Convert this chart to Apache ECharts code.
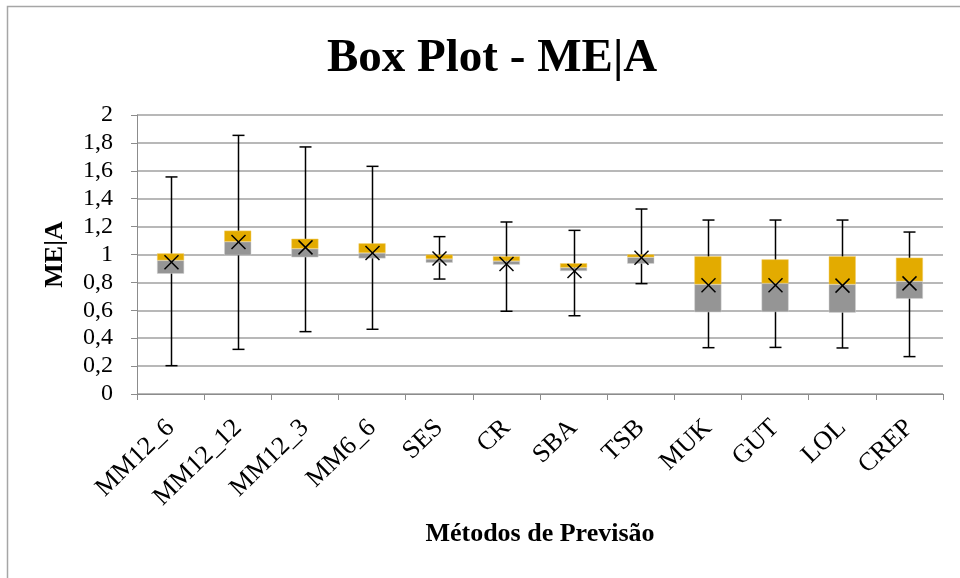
<!DOCTYPE html>
<html>
<head>
<meta charset="utf-8">
<script src="https://cdn.jsdelivr.net/npm/echarts@6/dist/echarts.min.js"></script>
<style>
  html, body { margin: 0; padding: 0; background: #fff; }
  #chart { width: 960px; height: 578px; }
</style>
</head>
<body>
<div id="chart"></div>
<script>
// Forecasting methods and their ME|A distribution summaries
const categories = ['MM12_6', 'MM12_12', 'MM12_3', 'MM6_6', 'SES', 'CR', 'SBA', 'TSB', 'MUK', 'GUT', 'LOL', 'CREP'];
const minVals    = [0.203, 0.320, 0.447, 0.464, 0.824, 0.593, 0.561, 0.791, 0.332, 0.334, 0.330, 0.268];
const q1Vals     = [0.862, 0.994, 0.980, 0.972, 0.941, 0.927, 0.882, 0.934, 0.586, 0.588, 0.583, 0.683];
const medianVals = [0.958, 1.092, 1.042, 1.011, 0.968, 0.953, 0.906, 0.980, 0.786, 0.793, 0.786, 0.808];
const q3Vals     = [1.008, 1.171, 1.113, 1.080, 0.999, 0.987, 0.937, 1.001, 0.987, 0.965, 0.987, 0.977];
const maxVals    = [1.556, 1.854, 1.771, 1.632, 1.128, 1.233, 1.173, 1.326, 1.247, 1.247, 1.247, 1.161];
const meanVals   = [0.944, 1.090, 1.051, 1.011, 0.972, 0.932, 0.882, 0.977, 0.780, 0.780, 0.777, 0.793];
const yTickLabels = ['0', '0,2', '0,4', '0,6', '0,8', '1', '1,2', '1,4', '1,6', '1,8', '2'];

const FONT = '"Liberation Serif", "Times New Roman", serif';

// Stacked pieces of each box: invisible base up to Q1, then Q1→median, median→Q3
const baseData = q1Vals;
const lowerBox = q1Vals.map((v, i) => +(medianVals[i] - v).toFixed(4));
const upperBox = q3Vals.map((v, i) => +(v - medianVals[i]).toFixed(4));

const chart = echarts.init(document.getElementById('chart'));

chart.setOption({
  backgroundColor: '#fff',
  animation: false,
  title: {
    text: 'Box Plot - ME|A',
    left: 322,
    top: 30,
    textStyle: { fontFamily: FONT, fontSize: 47, fontWeight: 'bold', color: '#000' }
  },
  graphic: [{
    type: 'rect',
    shape: { x: 7.5, y: 6.5, width: 1000, height: 1000 },
    style: { fill: 'none', stroke: '#A6A6A6', lineWidth: 1.5 },
    silent: true
  }],
  grid: { left: 137, right: 17, top: 115, bottom: 184 },
  xAxis: {
    type: 'category',
    data: categories,
    boundaryGap: true,
    axisLine: { lineStyle: { color: '#8C8C8C', width: 1 } },
    axisTick: { show: true, length: 6, alignWithLabel: false, lineStyle: { color: '#8C8C8C' } },
    axisLabel: {
      rotate: 44, color: '#000', fontFamily: FONT, fontSize: 26, margin: 30, interval: 0
    },
    name: 'Métodos de Previsão',
    nameLocation: 'middle',
    nameGap: 127,
    nameTextStyle: { fontFamily: FONT, fontSize: 26, fontWeight: 'bold', color: '#000' }
  },
  yAxis: {
    type: 'value',
    min: 0, max: 2, interval: 0.2,
    axisLine: { show: true, lineStyle: { color: '#8C8C8C', width: 1 } },
    axisTick: { show: true, length: 6, lineStyle: { color: '#8C8C8C' } },
    splitLine: { show: true, lineStyle: { color: '#A0A0A0', width: 1.5 } },
    axisLabel: {
      color: '#000', fontFamily: FONT, fontSize: 24, margin: 24,
      formatter: (v) => yTickLabels[Math.round(v / 0.2)]
    },
    name: 'ME|A',
    nameLocation: 'middle',
    nameGap: 69,
    nameRotate: 90,
    nameTextStyle: { fontFamily: FONT, fontSize: 26, fontWeight: 'bold', color: '#000' }
  },
  series: [
    {
      // whiskers from min to max with caps, drawn behind the boxes
      type: 'custom',
      z: 1,
      data: categories.map((c, i) => [i, minVals[i], maxVals[i]]),
      renderItem: (params, api) => {
        const lo = api.coord([api.value(0), api.value(1)]);
        const hi = api.coord([api.value(0), api.value(2)]);
        const x = Math.round(lo[0]) + 0.5;
        const cap = 6;
        const style = { stroke: '#000', lineWidth: 1.5 };
        return {
          type: 'group',
          children: [
            { type: 'line', shape: { x1: x, y1: lo[1], x2: x, y2: hi[1] }, style },
            { type: 'line', shape: { x1: x - cap, y1: lo[1], x2: x + cap, y2: lo[1] }, style },
            { type: 'line', shape: { x1: x - cap, y1: hi[1], x2: x + cap, y2: hi[1] }, style }
          ]
        };
      }
    },
    {
      type: 'bar', stack: 'box', data: baseData, barWidth: 27, z: 2,
      itemStyle: { color: 'rgba(0,0,0,0)' }, silent: true
    },
    {
      type: 'bar', stack: 'box', data: lowerBox, barWidth: 27, z: 2,
      itemStyle: { color: '#959595', borderColor: '#D0D0D0', borderWidth: 0.5 }
    },
    {
      type: 'bar', stack: 'box', data: upperBox, barWidth: 27, z: 2,
      itemStyle: { color: '#E3AB00', borderColor: '#F0CC66', borderWidth: 0.5 }
    },
    {
      // mean marker drawn as an X
      type: 'custom',
      z: 5,
      data: categories.map((c, i) => [i, meanVals[i]]),
      renderItem: (params, api) => {
        const p = api.coord([api.value(0), api.value(1)]);
        const x = Math.round(p[0]) + 0.5;
        const s = 7;
        const style = { stroke: '#000', lineWidth: 1.5 };
        return {
          type: 'group',
          children: [
            { type: 'line', shape: { x1: x - s, y1: p[1] - s, x2: x + s, y2: p[1] + s }, style },
            { type: 'line', shape: { x1: x - s, y1: p[1] + s, x2: x + s, y2: p[1] - s }, style }
          ]
        };
      }
    }
  ]
});
</script>
</body>
</html>
